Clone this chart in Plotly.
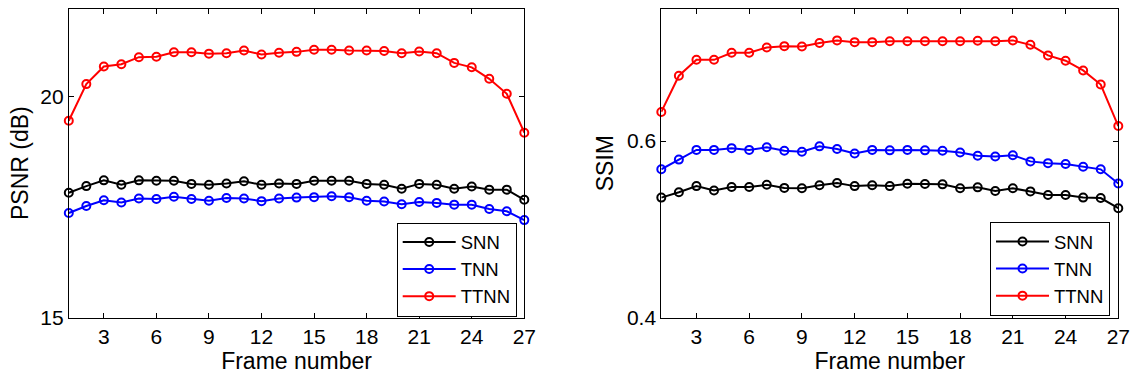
import plotly.graph_objects as go

frames = list(range(1, 28))

psnr_snn = [17.83, 17.98, 18.11, 18.01, 18.11, 18.10, 18.10, 18.03, 18.01, 18.04,
            18.09, 18.01, 18.04, 18.03, 18.10, 18.10, 18.10, 18.03, 18.01, 17.92,
            18.03, 18.01, 17.92, 17.97, 17.90, 17.90, 17.67]
psnr_tnn = [17.37, 17.53, 17.66, 17.61, 17.70, 17.69, 17.74, 17.69, 17.65, 17.71,
            17.70, 17.64, 17.70, 17.72, 17.73, 17.75, 17.73, 17.65, 17.63, 17.57,
            17.62, 17.60, 17.56, 17.56, 17.46, 17.41, 17.21]
psnr_ttnn = [19.46, 20.29, 20.69, 20.74, 20.90, 20.91, 21.01, 21.01, 20.98, 20.99,
             21.05, 20.96, 21.00, 21.02, 21.07, 21.07, 21.05, 21.05, 21.04, 20.99,
             21.03, 20.99, 20.77, 20.67, 20.41, 20.07, 19.19]

ssim_snn = [0.536, 0.542, 0.549, 0.544, 0.548, 0.548, 0.5505, 0.547, 0.5465, 0.550,
            0.5525, 0.549, 0.550, 0.549, 0.5517, 0.5513, 0.551, 0.5465, 0.5476, 0.5434,
            0.5465, 0.543, 0.539, 0.539, 0.536, 0.5355, 0.524]
ssim_tnn = [0.568, 0.579, 0.590, 0.590, 0.592, 0.590, 0.593, 0.589, 0.588, 0.594,
            0.591, 0.586, 0.590, 0.5895, 0.590, 0.5895, 0.589, 0.587, 0.5834, 0.5826,
            0.584, 0.577, 0.575, 0.574, 0.571, 0.568, 0.552]
ssim_ttnn = [0.633, 0.674, 0.692, 0.692, 0.700, 0.700, 0.706, 0.7075, 0.707, 0.711,
             0.714, 0.712, 0.712, 0.713, 0.713, 0.713, 0.713, 0.713, 0.7135, 0.713,
             0.714, 0.709, 0.697, 0.691, 0.680, 0.664, 0.617]

names = ["SNN", "TNN", "TTNN"]
colors = ["#000000", "#0000ff", "#ff0000"]
x_ticks = [3, 6, 9, 12, 15, 18, 21, 24, 27]

FONT = "Liberation Sans, Arial, Helvetica, sans-serif"

W, H = 1137, 379

def fx(px):
    return px / W

def fy(py):
    return 1 - py / H

fig = go.Figure()

for series, nm, col in zip([psnr_snn, psnr_tnn, psnr_ttnn], names, colors):
    fig.add_trace(go.Scatter(
        x=frames, y=series, name=nm, mode="lines+markers",
        line=dict(color=col, width=2),
        marker=dict(symbol="circle-open", size=8, color=col, line=dict(width=2, color=col)),
        xaxis="x", yaxis="y", legend="legend", cliponaxis=False))

for series, nm, col in zip([ssim_snn, ssim_tnn, ssim_ttnn], names, colors):
    fig.add_trace(go.Scatter(
        x=frames, y=series, name=nm, mode="lines+markers",
        line=dict(color=col, width=2),
        marker=dict(symbol="circle-open", size=8, color=col, line=dict(width=2, color=col)),
        xaxis="x2", yaxis="y2", legend="legend2", cliponaxis=False))

axis_common = dict(
    showline=True, linecolor="black", linewidth=1, mirror="ticks",
    ticks="inside", ticklen=5, tickwidth=1, tickcolor="black",
    showgrid=False, zeroline=False, automargin=False,
    tickfont=dict(family=FONT, size=21, color="black"),
)

TITLE_SIZE = 23
top_d = fy(8.6)
bot_d = fy(317.7)

legend_common = dict(
    xanchor="right", yanchor="bottom",
    bgcolor="white", bordercolor="black", borderwidth=1, itemwidth=53,
    font=dict(family=FONT, size=18.5, color="black"),
)

fig.update_layout(
    width=W, height=H,
    margin=dict(l=0, r=0, t=0, b=0, autoexpand=False),
    paper_bgcolor="white", plot_bgcolor="white",
    font=dict(family=FONT, color="black"),
    xaxis=dict(domain=[fx(68.8), fx(524.3)], anchor="y", range=[1, 27], tickvals=x_ticks,
               title=dict(text="Frame number", font=dict(family=FONT, size=TITLE_SIZE), standoff=5),
               **axis_common),
    yaxis=dict(domain=[bot_d, top_d], anchor="x", range=[15, 22], tickvals=[15, 20],
               title=dict(text="PSNR (dB)", font=dict(family=FONT, size=TITLE_SIZE), standoff=5),
               **axis_common),
    xaxis2=dict(domain=[fx(661.3), fx(1118.3)], anchor="y2", range=[1, 27], tickvals=x_ticks,
                title=dict(text="Frame number", font=dict(family=FONT, size=TITLE_SIZE), standoff=5),
                **axis_common),
    yaxis2=dict(domain=[bot_d, top_d], anchor="x2", range=[0.4, 0.75], tickvals=[0.4, 0.6],
                tickformat=".1f",
                title=dict(text="SSIM", font=dict(family=FONT, size=TITLE_SIZE), standoff=6),
                **axis_common),
    legend=dict(x=fx(516.7), y=fy(316.5), **legend_common),
    legend2=dict(x=fx(1110), y=fy(316), **legend_common),
    showlegend=True,
)

fig.write_html("out.html", config={"displayModeBar": False},
               post_script="document.body.style.margin='0';")
